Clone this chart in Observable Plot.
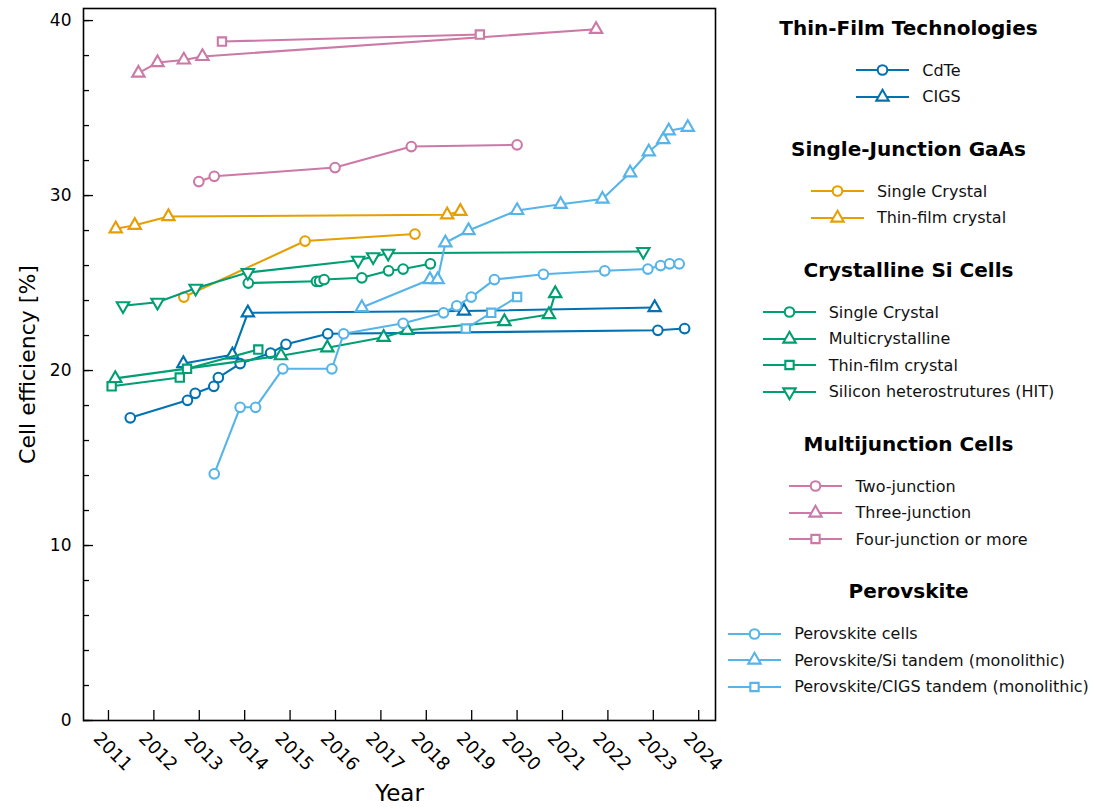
<!DOCTYPE html>
<html>
<head>
<meta charset="utf-8">
<script src="https://cdn.jsdelivr.net/npm/d3@7"></script>
<script src="https://cdn.jsdelivr.net/npm/@observablehq/plot@0.6"></script>
<style>
  html, body { margin: 0; padding: 0; background: #fff; }
  #wrap { position: relative; width: 1097px; height: 809px; overflow: hidden; font-family: "DejaVu Sans", sans-serif; }
  #chart { position: absolute; left: 0; top: 0; }
  #legend { position: absolute; left: 720px; top: 16px; width: 377px; display: flex; flex-direction: column; align-items: center; }
  .grp { display: flex; flex-direction: column; align-items: center; margin-bottom: 26.7px; }
  .gtitle { font-weight: 700; font-size: 20px; line-height: 24px; height: 24px; margin-bottom: 17px; white-space: nowrap; color: #000; }
  .entries { display: flex; flex-direction: column; align-items: flex-start; }
  .entry { display: flex; align-items: center; height: 26.6px; font-size: 16px; white-space: nowrap; color: #111; }
  .entry svg { margin-right: 13px; }
</style>
</head>
<body>
<div id="wrap">
  <div id="chart"></div>
  <div id="legend"></div>
</div>
<script>
// ---------- data ----------
const years = [2011, 2012, 2013, 2014, 2015, 2016, 2017, 2018, 2019, 2020, 2021, 2022, 2023, 2024];
const yMajorTicks = [0, 10, 20, 30, 40];
const yMinorTicks = [0, 2, 4, 6, 8, 10, 12, 14, 16, 18, 20, 22, 24, 26, 28, 30, 32, 34, 36, 38, 40];

const groupNames = ["Thin-Film Technologies", "Single-Junction GaAs", "Crystalline Si Cells", "Multijunction Cells", "Perovskite"];

const cdteYear = [2011.48, 2012.74, 2012.91, 2013.32, 2013.42, 2013.90, 2014.57, 2014.91, 2015.83, 2023.10, 2023.69];
const cdteEff  = [17.3, 18.3, 18.7, 19.1, 19.6, 20.4, 21.0, 21.5, 22.1, 22.3, 22.4];

const cigsYear = [2012.65, 2013.73, 2014.07, 2018.83, 2023.03];
const cigsEff  = [20.4, 20.9, 23.3, 23.4, 23.6];

const gaasScYear = [2012.66, 2015.33, 2017.75];
const gaasScEff  = [24.2, 27.4, 27.8];

const gaasTfYear = [2011.16, 2011.58, 2012.32, 2018.46, 2018.75];
const gaasTfEff  = [28.1, 28.3, 28.8, 28.9, 29.1];

const siScYear = [2014.08, 2015.58, 2015.65, 2015.75, 2016.58, 2017.17, 2017.49, 2018.09];
const siScEff  = [25.0, 25.1, 25.1, 25.2, 25.3, 25.7, 25.8, 26.1];

const siMcYear = [2011.15, 2014.80, 2015.82, 2017.06, 2017.58, 2019.72, 2020.70, 2020.84];
const siMcEff  = [19.55, 20.85, 21.3, 21.9, 22.3, 22.8, 23.2, 24.4];

const siTfYear = [2011.07, 2012.57, 2012.73, 2014.30];
const siTfEff  = [19.1, 19.6, 20.1, 21.2];

const hitYear = [2011.32, 2012.08, 2012.92, 2014.07, 2016.50, 2016.83, 2017.16, 2022.78];
const hitEff  = [23.7, 23.9, 24.7, 25.6, 26.3, 26.5, 26.7, 26.8];

const twoJYear = [2012.99, 2013.33, 2015.99, 2017.67, 2020.00];
const twoJEff  = [30.8, 31.1, 31.6, 32.8, 32.9];

const threeJYear = [2011.66, 2012.08, 2012.66, 2013.07, 2021.74];
const threeJEff  = [37.0, 37.6, 37.75, 37.95, 39.5];

const fourJYear = [2013.50, 2019.18];
const fourJEff  = [38.8, 39.2];

const perovYear = [2013.33, 2013.90, 2014.24, 2014.84, 2015.92, 2016.18, 2017.49, 2018.38, 2018.67, 2018.99, 2019.50, 2020.58, 2021.93, 2022.88, 2023.16, 2023.36, 2023.57];
const perovEff  = [14.1, 17.9, 17.9, 20.1, 20.1, 22.1, 22.7, 23.3, 23.7, 24.2, 25.2, 25.5, 25.7, 25.8, 26.0, 26.1, 26.1];

const perovSiYear = [2016.58, 2018.08, 2018.25, 2018.42, 2018.93, 2020.00, 2020.96, 2021.88, 2022.49, 2022.90, 2023.22, 2023.34, 2023.76];
const perovSiEff  = [23.6, 25.2, 25.2, 27.3, 28.0, 29.15, 29.5, 29.8, 31.3, 32.5, 33.2, 33.7, 33.9];

const perovCigsYear = [2018.87, 2019.43, 2020.00];
const perovCigsEff  = [22.4, 23.3, 24.2];

// ---------- styling ----------
const C_BLUE = "#0072B2", C_ORANGE = "#E69F00", C_GREEN = "#009E73", C_PINK = "#CC79A7", C_SKY = "#56B4E9";

const series = [
  {g: 0, name: "CdTe", color: C_BLUE, symbol: "circle", x: cdteYear, y: cdteEff},
  {g: 0, name: "CIGS", color: C_BLUE, symbol: "triangle", x: cigsYear, y: cigsEff},
  {g: 1, name: "Single Crystal", color: C_ORANGE, symbol: "circle", x: gaasScYear, y: gaasScEff},
  {g: 1, name: "Thin-film crystal", color: C_ORANGE, symbol: "triangle", x: gaasTfYear, y: gaasTfEff},
  {g: 2, name: "Single Crystal", color: C_GREEN, symbol: "circle", x: siScYear, y: siScEff},
  {g: 2, name: "Multicrystalline", color: C_GREEN, symbol: "triangle", x: siMcYear, y: siMcEff},
  {g: 2, name: "Thin-film crystal", color: C_GREEN, symbol: "square", x: siTfYear, y: siTfEff},
  {g: 2, name: "Silicon heterostrutures (HIT)", color: C_GREEN, symbol: "triangle", rotate: 180, x: hitYear, y: hitEff},
  {g: 3, name: "Two-junction", color: C_PINK, symbol: "circle", x: twoJYear, y: twoJEff},
  {g: 3, name: "Three-junction", color: C_PINK, symbol: "triangle", x: threeJYear, y: threeJEff},
  {g: 3, name: "Four-junction or more", color: C_PINK, symbol: "square", x: fourJYear, y: fourJEff},
  {g: 4, name: "Perovskite cells", color: C_SKY, symbol: "circle", x: perovYear, y: perovEff},
  {g: 4, name: "Perovskite/Si tandem (monolithic)", color: C_SKY, symbol: "triangle", x: perovSiYear, y: perovSiEff},
  {g: 4, name: "Perovskite/CIGS tandem (monolithic)", color: C_SKY, symbol: "square", x: perovCigsYear, y: perovCigsEff}
];

const symR = sym => sym === "triangle" ? 4.6 : sym === "square" ? 4.7 : 4.8;
const marks = [];
for (const s of series) {
  const data = s.x.map((x, i) => ({year: x, eff: s.y[i]}));
  marks.push(Plot.line(data, {x: "year", y: "eff", stroke: s.color, strokeWidth: 2.1}));
  marks.push(Plot.dot(data, {x: "year", y: "eff", stroke: s.color, fill: "white", strokeWidth: 2.1, symbol: s.symbol, r: symR(s.symbol), rotate: s.rotate || 0}));
}

const chart = Plot.plot({
  width: 725,
  height: 809,
  marginLeft: 83,
  marginRight: 10,
  marginTop: 8,
  marginBottom: 89,
  style: {fontFamily: "'DejaVu Sans', sans-serif", background: "white", overflow: "visible", color: "black"},
  x: {domain: [2010.45, 2024.37], label: null},
  y: {domain: [0, 40.69], label: null},
  marks: [
    ...marks,
    Plot.frame({stroke: "black", strokeWidth: 1.6}),
    Plot.axisY({ticks: yMinorTicks, tickSize: -6, tickFormat: () => "", label: null, strokeWidth: 1.3}),
    Plot.axisY({ticks: yMajorTicks, tickSize: -10, tickPadding: 22, fontSize: 17, label: null, tickFormat: "d", strokeWidth: 1.3}),
    Plot.axisX({ticks: years, tickSize: -10, tickFormat: () => "", label: null, strokeWidth: 1.3}),
    Plot.axisX({ticks: years, tickSize: 0, tickRotate: 45, tickPadding: 15, dx: -12, fontSize: 18, tickFormat: "d", label: null}),
    Plot.text(["Cell efficiency [%]"], {frameAnchor: "left", textAnchor: "middle", lineAnchor: "middle", rotate: -90, dx: -56, fontSize: 22, fill: "black"}),
    Plot.text(["Year"], {frameAnchor: "bottom", textAnchor: "middle", lineAnchor: "middle", dy: 73, fontSize: 23, fill: "black"})
  ]
});
document.getElementById("chart").appendChild(chart);

// ---------- legend ----------
const legend = d3.select("#legend");
groupNames.forEach((gname, gi) => {
  const grp = legend.append("div").attr("class", "grp");
  grp.append("div").attr("class", "gtitle").text(gname);
  const ent = grp.append("div").attr("class", "entries");
  series.filter(s => s.g === gi).forEach(s => {
    const row = ent.append("div").attr("class", "entry");
    const svg = row.append("svg").attr("width", 53).attr("height", 20);
    svg.append("line").attr("x1", 0).attr("x2", 53).attr("y1", 10).attr("y2", 10)
      .attr("stroke", s.color).attr("stroke-width", 2.1);
    const r = symR(s.symbol);
    const type = s.symbol === "circle" ? d3.symbolCircle : s.symbol === "square" ? d3.symbolSquare : d3.symbolTriangle;
    svg.append("path").attr("d", d3.symbol(type, Math.PI * r * r)())
      .attr("transform", `translate(26.5,10) rotate(${s.rotate || 0})`)
      .attr("fill", "white").attr("stroke", s.color).attr("stroke-width", 2.1);
    row.append("span").text(s.name);
  });
});
</script>
</body>
</html>
